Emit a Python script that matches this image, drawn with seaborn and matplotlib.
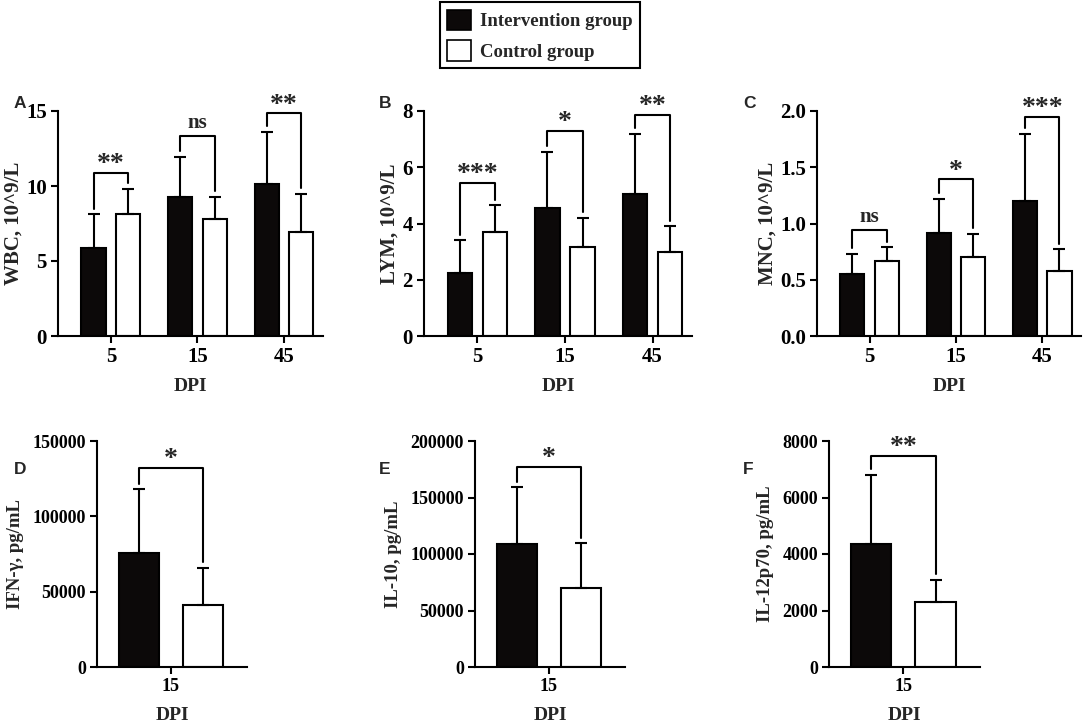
import numpy as np
import pandas as pd
import matplotlib
matplotlib.use("Agg")
import matplotlib.pyplot as plt
from matplotlib.patches import Patch
import seaborn as sns

# ---------------- data ----------------
groups = ["Intervention group", "Control group"]
dpi_top = ["5", "15", "45"]
dpi_bottom = ["15"]

wbc_int = [5.9, 9.25, 10.15]
wbc_int_sd = [2.2, 2.7, 3.45]
wbc_ctrl = [8.15, 7.8, 6.95]
wbc_ctrl_sd = [1.65, 1.5, 2.55]
wbc_sig = ["**", "ns", "**"]
wbc_bracket = [10.87, 13.33, 14.85]

lym_int = [2.25, 4.55, 5.05]
lym_int_sd = [1.15, 2.0, 2.15]
lym_ctrl = [3.7, 3.15, 3.0]
lym_ctrl_sd = [0.95, 1.05, 0.9]
lym_sig = ["***", "*", "**"]
lym_bracket = [5.45, 7.29, 7.86]

mnc_int = [0.55, 0.92, 1.2]
mnc_int_sd = [0.18, 0.30, 0.60]
mnc_ctrl = [0.67, 0.70, 0.58]
mnc_ctrl_sd = [0.12, 0.21, 0.19]
mnc_sig = ["ns", "*", "***"]
mnc_bracket = [0.942, 1.393, 1.95]

ifn_int = [75700]
ifn_int_sd = [42300]
ifn_ctrl = [41000]
ifn_ctrl_sd = [25000]
ifn_sig = ["*"]
ifn_bracket = [132300]

il10_int = [109000]
il10_int_sd = [50000]
il10_ctrl = [69500]
il10_ctrl_sd = [40000]
il10_sig = ["*"]
il10_bracket = [177300]

il12_int = [4350]
il12_int_sd = [2450]
il12_ctrl = [2300]
il12_ctrl_sd = [780]
il12_sig = ["**"]
il12_bracket = [7480]

# ---------------- style ----------------
sns.set_theme(style="ticks")
plt.rcParams["font.family"] = ["Liberation Serif", "DejaVu Serif"]
plt.rcParams["font.weight"] = "bold"
plt.rcParams["axes.labelweight"] = "bold"
plt.rcParams["axes.linewidth"] = 1.5

BLACK = "#0c0909"
palette = {groups[0]: BLACK, groups[1]: "white"}

fig = plt.figure(figsize=(10.84, 7.26), dpi=100)


def panel(rect, cats, iv, isd, cv, csd, sig, brk, ylabel, ylim, yticks, fmt,
          gap, xlim, letter, letter_pos, tick_fs, ylab_fs, xlab_fs, ylabpad, xlabpad):
    ax = fig.add_axes(rect)
    n = len(cats)
    df = pd.DataFrame({
        "DPI": cats + cats,
        "value": iv + cv,
        "Group": [groups[0]] * n + [groups[1]] * n,
    })
    sns.barplot(data=df, x="DPI", y="value", hue="Group", hue_order=groups,
                palette=palette, edgecolor="black", linewidth=1.5,
                errorbar=None, width=0.8, gap=gap, legend=False, ax=ax)
    bars = [p for p in ax.patches]
    xs_i = [b.get_x() + b.get_width() / 2 for b in bars[:n]]
    xs_c = [b.get_x() + b.get_width() / 2 for b in bars[n:2 * n]]
    ax.errorbar(xs_i, iv, yerr=[np.zeros(n), isd], fmt="none", ecolor="black",
                elinewidth=1.5, capsize=4, capthick=1.5, zorder=3)
    ax.errorbar(xs_c, cv, yerr=[np.zeros(n), csd], fmt="none", ecolor="black",
                elinewidth=1.5, capsize=4, capthick=1.5, zorder=3)
    rng = ylim[1] - ylim[0]
    off = 0.025 * rng
    for k in range(n):
        x1, x2 = xs_i[k], xs_c[k]
        t1 = iv[k] + isd[k] + off
        t2 = cv[k] + csd[k] + off
        h = brk[k]
        ax.plot([x1, x1, x2, x2], [t1, h, h, t2], color="black", lw=1.5,
                clip_on=False, zorder=4)
        if sig[k] == "ns":
            ax.text((x1 + x2) / 2, h + 0.015 * rng, sig[k], ha="center",
                    va="bottom", fontsize=15, fontweight="bold", clip_on=False)
        else:
            ax.text((x1 + x2) / 2, h - 0.02 * rng, sig[k], ha="center",
                    va="bottom", fontsize=20, fontweight="bold", clip_on=False)
    ax.set_ylim(*ylim)
    ax.set_xlim(*xlim)
    ax.set_yticks(yticks)
    ax.set_yticklabels([fmt.format(v) for v in yticks])
    ax.set_ylabel(ylabel, fontsize=ylab_fs, fontweight="bold", labelpad=ylabpad)
    ax.set_xlabel("DPI", fontsize=xlab_fs, fontweight="bold", labelpad=xlabpad)
    sns.despine(ax=ax)
    ax.tick_params(axis="both", direction="out", length=5, width=1.5,
                   labelsize=tick_fs, colors="black", pad=3)
    for lab in ax.get_xticklabels() + ax.get_yticklabels():
        lab.set_fontweight("bold")
    for s in ["left", "bottom"]:
        ax.spines[s].set_color("black")
        ax.spines[s].set_linewidth(1.5)
    fig.text(letter_pos[0], letter_pos[1], letter, family="Liberation Sans",
             fontweight="bold", fontsize=12.5, ha="left", va="center")
    return ax


W, H = 1084, 726


def rect(l, r, t, b):
    return [l / W, 1 - b / H, (r - l) / W, (b - t) / H]


top_xlim = (-0.61, 2.45)
bot_xlim = (-0.46, 0.475)
TOP = dict(tick_fs=15, ylab_fs=15, xlab_fs=14, ylabpad=2, xlabpad=8)
BOT = dict(tick_fs=13, ylab_fs=13.5, xlab_fs=14, ylabpad=6, xlabpad=8.5)

panel(rect(58, 323, 111, 336), dpi_top, wbc_int, wbc_int_sd, wbc_ctrl, wbc_ctrl_sd,
      wbc_sig, wbc_bracket, "WBC, 10^9/L", (0, 15), [0, 5, 10, 15], "{:g}",
      0.3, top_xlim, "A", (14 / W, 1 - 103 / H), **TOP)
panel(rect(424, 692, 111, 336), dpi_top, lym_int, lym_int_sd, lym_ctrl, lym_ctrl_sd,
      lym_sig, lym_bracket, "LYM, 10^9/L", (0, 8), [0, 2, 4, 6, 8], "{:g}",
      0.3, top_xlim, "B", (379 / W, 1 - 103 / H), **TOP)
panel(rect(817, 1081, 111, 336), dpi_top, mnc_int, mnc_int_sd, mnc_ctrl, mnc_ctrl_sd,
      mnc_sig, mnc_bracket, "MNC, 10^9/L", (0, 2.0), [0, 0.5, 1.0, 1.5, 2.0], "{:.1f}",
      0.3, top_xlim, "C", (743 / W, 1 - 103 / H), **TOP)
panel(rect(97, 247, 441, 667), dpi_bottom, ifn_int, ifn_int_sd, ifn_ctrl, ifn_ctrl_sd,
      ifn_sig, ifn_bracket, "IFN-γ, pg/mL", (0, 150000), [0, 50000, 100000, 150000], "{:d}",
      0.375, bot_xlim, "D", (14 / W, 1 - 469 / H), **BOT)
panel(rect(475, 625, 441, 667), dpi_bottom, il10_int, il10_int_sd, il10_ctrl, il10_ctrl_sd,
      il10_sig, il10_bracket, "IL-10, pg/mL", (0, 200000),
      [0, 50000, 100000, 150000, 200000], "{:d}",
      0.375, bot_xlim, "E", (379 / W, 1 - 469 / H), **BOT)
panel(rect(829, 980, 441, 667), dpi_bottom, il12_int, il12_int_sd, il12_ctrl, il12_ctrl_sd,
      il12_sig, il12_bracket, "IL-12p70, pg/mL", (0, 8000), [0, 2000, 4000, 6000, 8000], "{:d}",
      0.375, bot_xlim, "F", (743 / W, 1 - 469 / H), **BOT)

handles = [Patch(facecolor=BLACK, edgecolor="black", linewidth=1.2, label=groups[0]),
           Patch(facecolor="white", edgecolor="black", linewidth=1.2, label=groups[1])]
leg = fig.legend(handles=handles, loc="upper center", bbox_to_anchor=(540 / W, 1 - 2 / H),
                 frameon=True, fancybox=False, edgecolor="black", framealpha=1,
                 prop={"family": "Liberation Serif", "weight": "bold", "size": 13.5},
                 handlelength=1.25, handleheight=1.3, borderpad=0.4, labelspacing=0.55,
                 handletextpad=0.5, borderaxespad=0)
leg.get_frame().set_linewidth(1.5)

fig.savefig("out.png", dpi=100)
